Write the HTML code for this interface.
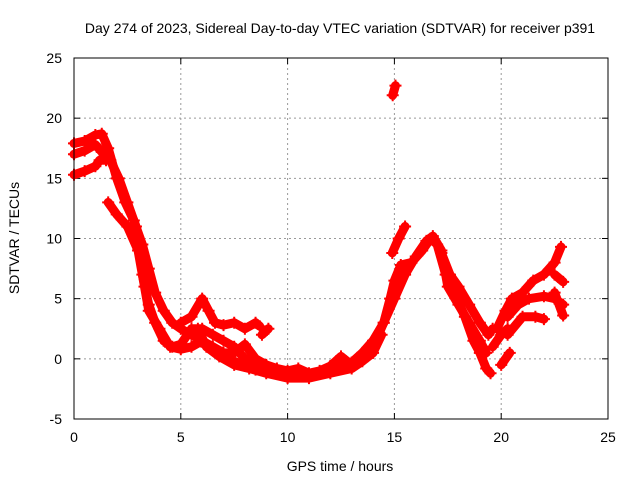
<!DOCTYPE html>
<html><head><meta charset="utf-8"><style>
body{margin:0;background:#fff}
svg{display:block;font-family:"Liberation Sans",sans-serif}
</style></head><body>
<svg id="chart" width="640" height="480" viewBox="0 0 640 480">
<text x="340" y="33" font-size="14" text-anchor="middle">Day 274 of 2023, Sidereal Day-to-day VTEC variation (SDTVAR) for receiver p391</text>
<text x="340" y="471" font-size="14" text-anchor="middle">GPS time / hours</text>
<text x="19" y="238" font-size="14" text-anchor="middle" transform="rotate(-90 19 238)">SDTVAR / TECUs</text>
<g id="grid"></g><g id="ticks"></g><g id="marks"></g>
<rect x="74" y="58" width="534" height="361" fill="none" stroke="#000" stroke-width="1"/>
</svg>
<script>
const xTicks=[0,5,10,15,20,25];
const yTicks=[-5,0,5,10,15,20,25];
const trackA=[[0,17.9],[0.5,18.1],[1.0,18.6],[1.3,18.7],[1.6,17.5],[2.0,15],[2.4,13],[2.8,11.5],[3.2,9.5],[3.5,7.5],[3.8,5.5],[4.2,4],[4.6,3],[5.0,2.5],[5.5,2],[6,1.5],[6.5,0.8],[7,0.3],[7.5,-0.2],[8,-0.6],[8.5,-0.9],[9,-1],[9.5,-1],[10,-1.2],[10.5,-1.3],[11,-1.4],[11.5,-1.2],[12,-0.9],[12.5,-0.6],[13,-0.3],[13.5,0.5],[14,1.5],[14.5,3],[15,5],[15.5,7],[16,8.5],[16.5,9.8],[16.8,10.2],[17.2,9],[17.5,6],[18,4.5],[18.5,3],[19,1.5],[19.3,0.5]];
const trackB=[[0,17.0],[0.5,17.3],[1.0,17.8],[1.3,17.2],[1.7,16.5],[2.1,15],[2.5,13],[2.9,11],[3.2,9]];
const trackC=[[0,15.3],[0.5,15.6],[1.0,16],[1.2,16.5],[1.5,16.5]];
const trackD=[[1.6,13],[2,12],[2.5,11],[3,9],[3.3,6],[3.5,4],[4,2.5],[4.5,1],[5,0.8],[5.5,1.0],[6,1.5],[6.5,1],[7,0.5],[7.5,0.5],[8,1.2],[8.5,0],[9,-0.5],[9.5,-0.8],[10,-1],[10.5,-0.8],[11,-1.2],[11.5,-1],[12,-0.6],[12.5,0.2],[13,-0.5]];
const trackE=[[3.2,7],[3.5,4.5],[3.8,3],[4.2,1.5],[4.6,1],[5,1.2],[5.5,2.5],[6,2.5],[6.5,2],[7,1.5],[7.5,1],[8,0],[8.5,-0.5]];
const trackF=[[5,3],[5.5,3.5],[6,5],[6.3,4],[6.6,3],[7,2.8],[7.5,3],[8,2.5],[8.5,3],[8.7,2.7]];
const trackG=[[8.8,2],[9.1,2.5]];
const trackH=[[13,-0.5],[14,1],[14.5,3],[14.8,5],[15,6.5],[15.3,7.8],[15.8,8],[16.3,9],[16.7,10],[17,9.5],[17.4,7],[17.8,5.5],[18.3,3.5],[18.7,1.5],[19,0.5],[19.3,-0.8],[19.5,-1.2]];
const trackI=[[14.9,8.8],[15.2,10],[15.5,11]];
const trackJ=[[14.92,21.9],[15.05,22.7]];
const trackK=[[17.2,8.8],[17.6,7],[18,6],[18.5,4.5],[19,3],[19.4,2],[19.6,2.5]];
const trackL=[[19.8,2.5],[20.2,4],[20.5,5],[21,5.5],[21.5,6.5],[22,7],[22.5,8],[22.8,9.3]];
const trackM=[[20.3,3.5],[20.8,4.5],[21.3,5],[22,5.2],[22.5,5],[22.9,4.5]];
const trackN=[[20.3,2],[21,3.5],[21.6,3.5],[22,3.3]];
const trackO=[[22.5,7],[22.9,6.4]];
const trackP=[[22.5,5.5],[22.9,3.6]];
const trackQ=[[19.6,1],[20,2],[20.3,2.5]];
const trackR=[[20,-0.5],[20.4,0.5]];
const trackS=[[5.8,2.5],[6.2,1],[6.8,0.2],[7.5,-0.5],[8.2,-0.8],[9,-1.2],[10,-1.6],[11,-1.6],[12,-1.2],[13,-0.8],[13.5,-0.2],[14,0.5],[14.4,2]];
const tracks=[trackA,trackB,trackC,trackD,trackE,trackF,trackG,trackH,trackI,trackJ,trackK,trackL,trackM,trackN,trackO,trackP,trackQ,trackR,trackS];
const NS="http://www.w3.org/2000/svg";
const X=t=>74+t*(534/25);
const Y=v=>419-(v+5)*(361/30);
const grid=document.getElementById('grid'),ticks=document.getElementById('ticks'),marks=document.getElementById('marks');
function mk(tag,attrs,parent){const e=document.createElementNS(NS,tag);for(const k in attrs)e.setAttribute(k,attrs[k]);parent.appendChild(e);return e;}
xTicks.forEach(t=>{
  const x=X(t);
  if(t>0&&t<25){const g=mk('line',{x1:x,x2:x,y1:58,y2:419,stroke:'#999','stroke-dasharray':'2,3'},grid);
  
  }
  mk('line',{x1:x,x2:x,y1:419,y2:413,stroke:'#000'},ticks);
  mk('line',{x1:x,x2:x,y1:58,y2:64,stroke:'#000'},ticks);
  const l=mk('text',{x:x,y:442,'font-size':14,'text-anchor':'middle'},ticks);
  l.textContent=t;
  
  
});
yTicks.forEach(v=>{
  const y=Y(v);
  if(v>-5&&v<25){const g=mk('line',{x1:74,x2:608,y1:y,y2:y,stroke:'#999','stroke-dasharray':'2,3'},grid);
  
  }
  mk('line',{x1:74,x2:80,y1:y,y2:y,stroke:'#000'},ticks);
  mk('line',{x1:602,x2:608,y1:y,y2:y,stroke:'#000'},ticks);
  const l=mk('text',{x:62,y:y+5,'font-size':14,'text-anchor':'end'},ticks);
  l.textContent=v;
  
  
});
tracks.forEach(tr=>{
  const pl=mk('polyline',{points:tr.map(p=>X(p[0])+','+Y(p[1])).join(' '),fill:'none',stroke:'#f00','stroke-width':9,'stroke-linejoin':'round','stroke-linecap':'round'},marks);
  
  
  tr.forEach(p=>{
    const x=X(p[0]),y=Y(p[1]);
    const m=mk('path',{d:`M${x-6},${y}H${x+6}M${x},${y-6}V${y+6}`,stroke:'#f00','stroke-width':2},marks);
    
    
  });
});
</script>
</body></html>
